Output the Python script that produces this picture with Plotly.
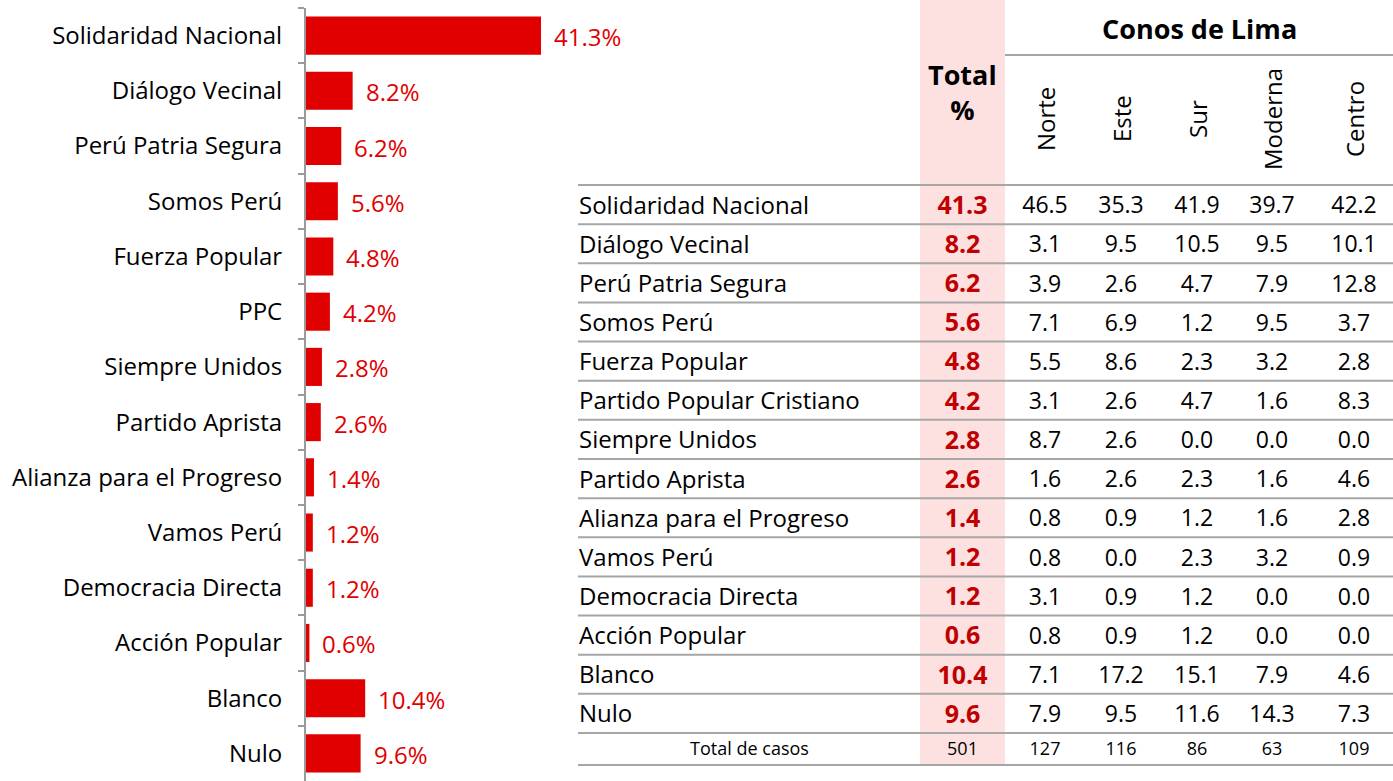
import plotly.graph_objects as go

# ---------------- data ----------------
parties = ["Solidaridad Nacional", "Diálogo Vecinal", "Perú Patria Segura", "Somos Perú",
           "Fuerza Popular", "PPC", "Siempre Unidos", "Partido Aprista",
           "Alianza para el Progreso", "Vamos Perú", "Democracia Directa",
           "Acción Popular", "Blanco", "Nulo"]
totals = [41.3, 8.2, 6.2, 5.6, 4.8, 4.2, 2.8, 2.6, 1.4, 1.2, 1.2, 0.6, 10.4, 9.6]

table_rows = ["Solidaridad Nacional", "Diálogo Vecinal", "Perú Patria Segura", "Somos Perú",
              "Fuerza Popular", "Partido Popular Cristiano", "Siempre Unidos", "Partido Aprista",
              "Alianza para el Progreso", "Vamos Perú", "Democracia Directa",
              "Acción Popular", "Blanco", "Nulo"]
zones = ["Norte", "Este", "Sur", "Moderna", "Centro"]
norte = [46.5, 3.1, 3.9, 7.1, 5.5, 3.1, 8.7, 1.6, 0.8, 0.8, 3.1, 0.8, 7.1, 7.9]
este = [35.3, 9.5, 2.6, 6.9, 8.6, 2.6, 2.6, 2.6, 0.9, 0.0, 0.9, 0.9, 17.2, 9.5]
sur = [41.9, 10.5, 4.7, 1.2, 2.3, 4.7, 0.0, 2.3, 1.2, 2.3, 1.2, 1.2, 15.1, 11.6]
moderna = [39.7, 9.5, 7.9, 9.5, 3.2, 1.6, 0.0, 1.6, 1.6, 3.2, 0.0, 0.0, 7.9, 14.3]
centro = [42.2, 10.1, 12.8, 3.7, 2.8, 8.3, 0.0, 4.6, 2.8, 0.9, 0.0, 0.0, 4.6, 7.3]
zone_values = [norte, este, sur, moderna, centro]
cases_label = "Total de casos"
cases_total = 501
cases_zone = [127, 116, 86, 63, 109]

# ---------------- style / layout constants ----------------
W, H = 1393, 781
FONT = "Open Sans"
BAR_RED = "#E00000"
TOT_RED = "#C00000"
PINK = "#FDE0E0"
GRID = "#A6A6A6"

# table geometry (pixel units on the table axes)
T_LEFT, T_RIGHT = 578, W
LABEL_X = 579
TOTAL_X0, TOTAL_X1 = 920, 1005
TOTAL_XC = (TOTAL_X0 + TOTAL_X1) / 2
ZONE_XC = [1045, 1121, 1197, 1272, 1354]
T_TOP = 185
ROW_H = (733 - 185) / len(table_rows)
T_CASES_BOTTOM = 765
CONOS_LINE_Y = 55
TEXT_DY = 3

def row_center(i):
    return T_TOP + (i + 0.5) * ROW_H + TEXT_DY

fig = go.Figure()

# ---------------- bar chart ----------------
fig.add_trace(go.Bar(
    x=totals, y=parties, orientation="h", width=0.69,
    marker=dict(color=BAR_RED, line=dict(width=0)),
    xaxis="x", yaxis="y", hoverinfo="skip", showlegend=False,
))
for p, v in zip(parties, totals):
    fig.add_annotation(x=v, y=p, xref="x", yref="y", text=f"{v:.1f}%",
                       xanchor="left", yanchor="middle", xshift=11, yshift=-1, showarrow=False,
                       font=dict(family=FONT, size=24, color=BAR_RED))

# ---------------- table ----------------
rows_y = [row_center(i) for i in range(len(table_rows))]
fig.add_trace(go.Scatter(
    x=[LABEL_X] * len(table_rows), y=rows_y, mode="text", text=table_rows,
    textposition="middle right", textfont=dict(family=FONT, size=24, color="#000000"),
    xaxis="x2", yaxis="y2", hoverinfo="skip", showlegend=False,
))
fig.add_trace(go.Scatter(
    x=[TOTAL_XC] * len(totals), y=rows_y, mode="text",
    text=[f"<b>{v:.1f}</b>" for v in totals],
    textposition="middle center", textfont=dict(family=FONT, size=25, color=TOT_RED),
    xaxis="x2", yaxis="y2", hoverinfo="skip", showlegend=False,
))
for xc, vals in zip(ZONE_XC, zone_values):
    fig.add_trace(go.Scatter(
        x=[xc] * len(vals), y=rows_y, mode="text", text=[f"{v:.1f}" for v in vals],
        textposition="middle center", textfont=dict(family=FONT, size=23, color="#000000"),
        xaxis="x2", yaxis="y2", hoverinfo="skip", showlegend=False,
    ))

cases_y = (733 + T_CASES_BOTTOM) / 2 + 1
fig.add_trace(go.Scatter(
    x=[(LABEL_X + TOTAL_X0) / 2, TOTAL_XC] + ZONE_XC,
    y=[cases_y] * (2 + len(cases_zone)), mode="text",
    text=[cases_label, str(cases_total)] + [str(c) for c in cases_zone],
    textposition="middle center", textfont=dict(family=FONT, size=18, color="#000000"),
    xaxis="x2", yaxis="y2", hoverinfo="skip", showlegend=False,
))

shapes = []
# pink total column
shapes.append(dict(type="rect", xref="x2", yref="y2", x0=TOTAL_X0, x1=TOTAL_X1,
                   y0=0, y1=T_CASES_BOTTOM, fillcolor=PINK, line=dict(width=0), layer="below"))
# horizontal rules
for i in range(len(table_rows) + 1):
    y = T_TOP + i * ROW_H
    shapes.append(dict(type="line", xref="x2", yref="y2", x0=T_LEFT, x1=T_RIGHT,
                       y0=y, y1=y, line=dict(color=GRID, width=2)))
shapes.append(dict(type="line", xref="x2", yref="y2", x0=T_LEFT, x1=T_RIGHT,
                   y0=T_CASES_BOTTOM, y1=T_CASES_BOTTOM, line=dict(color=GRID, width=2)))
shapes.append(dict(type="line", xref="x2", yref="y2", x0=TOTAL_X1, x1=T_RIGHT,
                   y0=CONOS_LINE_Y, y1=CONOS_LINE_Y, line=dict(color=GRID, width=2)))

annotations = list(fig.layout.annotations)
annotations.append(dict(x=(TOTAL_X1 + T_RIGHT) / 2, y=28, xref="x2", yref="y2",
                        text="<b>Conos de Lima</b>", showarrow=False,
                        font=dict(family=FONT, size=27, color="#000000")))
annotations.append(dict(x=TOTAL_XC, y=92, xref="x2", yref="y2",
                        text="<b>Total<br>%</b>", showarrow=False,
                        font=dict(family=FONT, size=27, color="#000000")))
for xc, z in zip(ZONE_XC, zones):
    annotations.append(dict(x=xc, y=119, xref="x2", yref="y2", text=z, textangle=-90,
                            showarrow=False, font=dict(family=FONT, size=24, color="#000000")))

fig.update_layout(
    width=W, height=H, margin=dict(l=0, r=0, t=0, b=0),
    paper_bgcolor="white", plot_bgcolor="rgba(0,0,0,0)",
    showlegend=False,
    xaxis=dict(domain=[306 / W, (306 + 60 * 5.69) / W], range=[0, 60], visible=False,
               fixedrange=True),
    yaxis=dict(domain=[0, 1 - 8 / H], type="category", categoryorder="array",
               categoryarray=parties, range=[len(parties) - 0.5, -0.5],
               showline=True, linecolor="#9A9A9A", linewidth=2,
               ticks="outside", ticklen=6, tickwidth=2, tickcolor="#9A9A9A",
               tickson="boundaries", ticklabelstandoff=17,
               tickfont=dict(family=FONT, size=24, color="#000000"),
               showgrid=False, zeroline=False, fixedrange=True, anchor="x"),
    xaxis2=dict(domain=[0, 1], range=[0, W], visible=False, anchor="y2", fixedrange=True),
    yaxis2=dict(domain=[0, 1], range=[H, 0], visible=False, anchor="x2", fixedrange=True),
    shapes=shapes, annotations=annotations,
)

fig.write_html("out.html", config={"displayModeBar": False},
               post_script="document.body.style.margin='0px';")
